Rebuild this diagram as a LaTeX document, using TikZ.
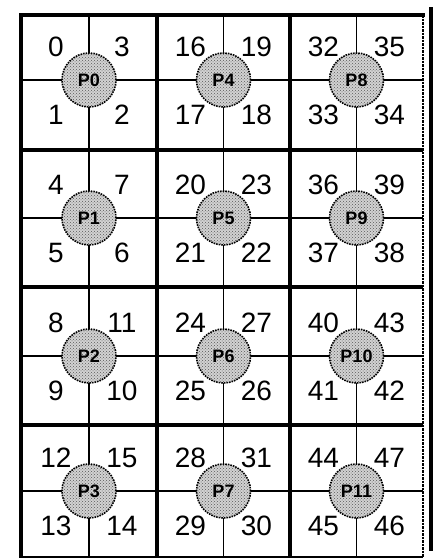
\documentclass[tikz,border=0pt]{standalone}
\usepackage{fontspec}
\setmainfont{Liberation Sans}
\usetikzlibrary{patterns}
\begin{document}
\begin{tikzpicture}[x=1pt,y=-1pt,
  thinline/.style={line width=1.3pt,black},
  boldline/.style={line width=4.5pt,black},
  pcirc/.style={circle,minimum size=54pt,inner sep=0pt,fill=gray!35,draw=black,densely dotted,line width=1.6pt},
  plbl/.style={inner sep=0pt,font=\fontsize{18}{18}\selectfont\bfseries},
  numlbl/.style={inner sep=0pt,font=\fontsize{28}{28}\selectfont}]
\useasboundingbox (0,0) rectangle (434,560);
% thin inner lines
\foreach \x in {89,223.5,356.5} \draw[thinline] (\x,15) -- (\x,557);
\foreach \y in {80,218,356,491} \draw[thinline] (21,\y) -- (423,\y);
% circles and numbers
\foreach \c/\xm in {0/89,1/223.5,2/356.5} {
  \foreach \r/\ym in {0/80,1/218,2/356,3/491} {
    \pgfmathtruncatemacro\k{4*\c+\r}
    \pgfmathtruncatemacro\na{4*\k}
    \pgfmathtruncatemacro\nb{4*\k+1}
    \pgfmathtruncatemacro\nc{4*\k+2}
    \pgfmathtruncatemacro\nd{4*\k+3}
    \node[pcirc] (P\k) at (\xm,\ym) {};
    \path[pattern=crosshatch dots,pattern color=gray!70!black] (P\k.center) circle (26pt);
    \node[plbl] (L\k) at (P\k.center) {P\k};
    \node[numlbl] (n\na) at (\xm-33,\ym-33) {\na};
    \node[numlbl] (n\nb) at (\xm-33,\ym+35) {\nb};
    \node[numlbl] (n\nc) at (\xm+33,\ym+35) {\nc};
    \node[numlbl] (n\nd) at (\xm+33,\ym-33) {\nd};
  }
}
% bold block borders
\draw[boldline] (19,15) -- (425,15);
\foreach \x in {21,157,290} \draw[boldline] (\x,13) -- (\x,557);
\foreach \y in {150,287,425} \draw[boldline] (21,\y) -- (423,\y);
\draw[line width=2pt] (19,557) -- (423,557);
\draw[line width=2.5pt,densely dotted] (423,15) -- (423,557);
\fill (429,7) rectangle (433,551);
\end{tikzpicture}
\end{document}
